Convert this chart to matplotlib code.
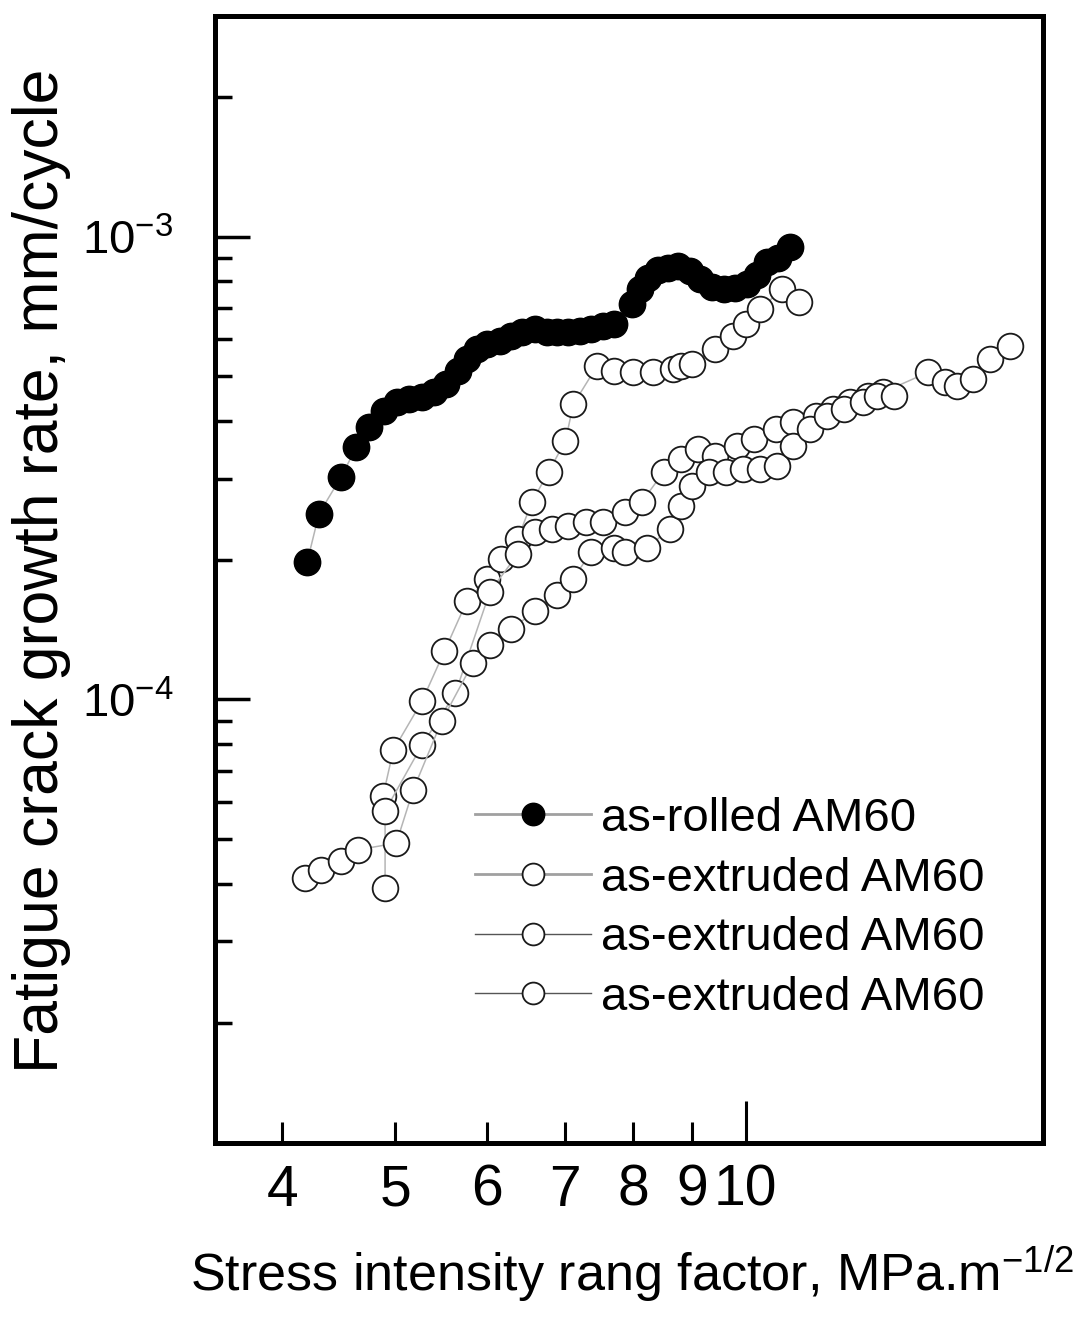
import numpy as np
import matplotlib
matplotlib.use('Agg')
from matplotlib import pyplot as plt
from matplotlib.ticker import FixedLocator, FixedFormatter, NullFormatter

plt.rcParams['font.family'] = ['Liberation Sans', 'DejaVu Sans']
plt.rcParams['mathtext.fontset'] = 'custom'
plt.rcParams['mathtext.rm'] = 'Liberation Sans'
plt.rcParams['mathtext.it'] = 'Liberation Sans:italic'
plt.rcParams['mathtext.default'] = 'regular'

# stress intensity range (MPa m^1/2) and crack growth rate (1e-4 mm/cycle)
rolled_dk = [4.20, 4.30, 4.49, 4.63, 4.75, 4.89, 5.02, 5.14, 5.27, 5.40,
             5.53, 5.66, 5.76, 5.88, 6.00, 6.15, 6.29, 6.43, 6.59, 6.75,
             6.89, 7.04, 7.20, 7.37, 7.54, 7.70, 7.98, 8.11, 8.24, 8.40,
             8.57, 8.74, 8.95, 9.13, 9.35, 9.58, 9.78, 10.02, 10.22, 10.42,
             10.66, 10.91]
rolled_rate = [1.98, 2.52, 3.02, 3.51, 3.88, 4.20, 4.39, 4.45, 4.50, 4.61,
               4.80, 5.12, 5.43, 5.71, 5.85, 5.94, 6.09, 6.21, 6.30, 6.21,
               6.21, 6.21, 6.24, 6.30, 6.40, 6.46, 7.14, 7.69, 8.16, 8.49,
               8.57, 8.62, 8.41, 8.08, 7.80, 7.69, 7.76, 7.92, 8.28, 8.83,
               9.00, 9.52]

ext1_dk = [4.88, 4.98, 5.27, 5.51, 5.76, 5.99, 6.16, 6.37, 6.55, 6.77,
           7.00, 7.11, 7.45, 7.70, 8.00, 8.32, 8.66, 8.79, 8.99, 9.41,
           9.76, 10.0, 10.28, 10.74, 11.1]
ext1_rate = [0.618, 0.776, 0.990, 1.27, 1.63, 1.82, 2.01, 2.22, 2.67, 3.10,
             3.62, 4.34, 5.25, 5.12, 5.09, 5.09, 5.17, 5.25, 5.30, 5.71,
             6.09, 6.46, 6.96, 7.69, 7.24]

ext2_dk = [4.90, 4.90, 5.27, 5.63, 6.03, 6.37, 6.59, 6.82, 7.04, 7.29,
           7.54, 7.87, 8.14, 8.50, 8.79, 9.10, 9.41, 9.82, 10.16, 10.61,
           10.98, 11.49, 11.88, 12.29, 12.74, 13.12, 14.34, 14.83, 15.2, 15.67,
           16.21, 16.87]
ext2_rate = [0.391, 0.574, 0.796, 1.03, 1.71, 2.06, 2.30, 2.34, 2.37, 2.42,
             2.42, 2.54, 2.67, 3.10, 3.31, 3.48, 3.36, 3.53, 3.65, 3.84,
             3.97, 4.09, 4.24, 4.39, 4.52, 4.61, 5.09, 4.85, 4.75, 4.92,
             5.43, 5.79]

ext3_dk = [4.18, 4.32, 4.49, 4.64, 5.01, 5.18, 5.48, 5.83, 6.03, 6.29,
           6.59, 6.88, 7.11, 7.36, 7.70, 7.87, 8.22, 8.61, 8.79, 8.99,
           9.29, 9.61, 9.94, 10.28, 10.63, 10.98, 11.35, 11.74, 12.14, 12.6,
           12.96, 13.4]
ext3_rate = [0.411, 0.428, 0.448, 0.473, 0.489, 0.637, 0.897, 1.20, 1.31, 1.42,
             1.55, 1.68, 1.82, 2.08, 2.12, 2.08, 2.12, 2.34, 2.62, 2.89,
             3.10, 3.10, 3.15, 3.15, 3.19, 3.53, 3.84, 4.09, 4.24, 4.39,
             4.52, 4.52]

labels = ['as-rolled AM60', 'as-extruded AM60', 'as-extruded AM60', 'as-extruded AM60']

x_minor_ticks = [4, 5, 6, 7, 8, 9]
x_minor_labels = ['4', '5', '6', '7', '8', '9']
x_major_ticks = [10]
x_major_labels = ['10']
y_major_ticks = [1e-4, 1e-3]
y_major_labels = [r'$10^{-4}$', r'$10^{-3}$']
y_minor_ticks = [k * 1e-5 for k in range(2, 10)] + [k * 1e-4 for k in range(2, 10)] + [2e-3]

fig = plt.figure(figsize=(10.78, 13.23), dpi=100)
ax = fig.add_axes([0.1994, 0.1361, 0.7681, 0.8519])

ext_series = [(ext1_dk, ext1_rate), (ext2_dk, ext2_rate), (ext3_dk, ext3_rate)]
for dk, rate in ext_series:
    ax.plot(dk, np.array(rate) * 1e-4, '-o', color='#b5b5b5', lw=1.1, ms=18.5,
            mfc='white', mec='#1a1a1a', mew=1.3)

ax.plot(rolled_dk, np.array(rolled_rate) * 1e-4, '-o', color='#b5b5b5',
        lw=1.1, ms=19, mfc='black', mec='black')

# legend entries (light thick lines for the first two, darker thin for the rest)
leg_handles = [
    ax.plot([], [], '-o', color='#a0a0a0', lw=2.0, ms=19, mfc='black', mec='black')[0],
    ax.plot([], [], '-o', color='#a0a0a0', lw=2.0, ms=18.5, mfc='white', mec='#1a1a1a', mew=1.3)[0],
    ax.plot([], [], '-o', color='#555555', lw=1.0, ms=18.5, mfc='white', mec='#1a1a1a', mew=1.3)[0],
    ax.plot([], [], '-o', color='#555555', lw=1.0, ms=18.5, mfc='white', mec='#1a1a1a', mew=1.3)[0],
]

ax.set_xscale('log')
ax.set_yscale('log')
ax.set_xlim(3.5, 18)
ax.set_ylim(1.1e-5, 3e-3)

ax.xaxis.set_major_locator(FixedLocator(x_major_ticks))
ax.xaxis.set_major_formatter(FixedFormatter(x_major_labels))
ax.xaxis.set_minor_locator(FixedLocator(x_minor_ticks))
ax.xaxis.set_minor_formatter(FixedFormatter(x_minor_labels))
ax.yaxis.set_major_locator(FixedLocator(y_major_ticks))
ax.yaxis.set_major_formatter(FixedFormatter(y_major_labels))
ax.yaxis.set_minor_locator(FixedLocator(y_minor_ticks))
ax.yaxis.set_minor_formatter(NullFormatter())

ax.tick_params(axis='x', which='major', direction='in', length=30, width=2.2,
               labelsize=41, pad=15)
ax.tick_params(axis='x', which='minor', direction='in', length=15, width=2.2,
               labelsize=41, pad=15)
ax.tick_params(axis='y', which='major', direction='in', length=25, width=2.5,
               labelsize=34, pad=30)
ax.tick_params(axis='y', which='minor', direction='in', length=12.5, width=2.5)
for s in ax.spines.values():
    s.set_linewidth(3.6)

ax.legend(leg_handles, labels, loc='upper left',
          bbox_to_anchor=(0.314, 0.307), frameon=False, fontsize=34, borderpad=0,
          borderaxespad=0, handlelength=2.45, handletextpad=0.21, labelspacing=0.33,
          markerscale=0.85)

fig.text(190 / 1078, 1 - 1292 / 1323, 'Stress intensity rang factor, MPa.m$^{-1/2}$',
         fontsize=37.5, ha='left', va='baseline')
fig.text(42 / 1078, 1 - 571 / 1323, 'Fatigue crack growth rate, mm/cycle',
         rotation=90, fontsize=45, ha='center', va='center')

fig.savefig('out.png', dpi=100)
